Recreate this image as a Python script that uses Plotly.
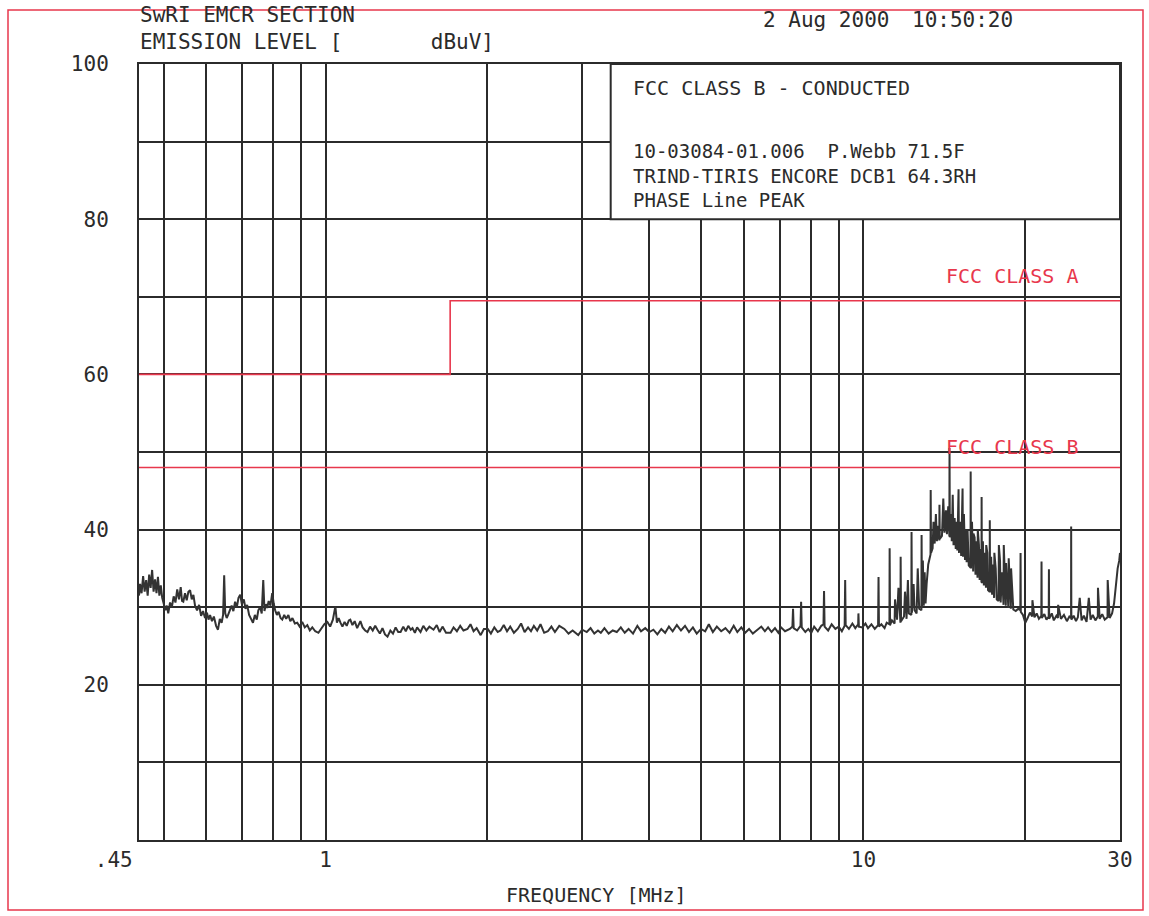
import plotly.graph_objects as go

# ---------------- data ----------------
freq_mhz = [
    0.450, 0.452, 0.455, 0.458, 0.461, 0.464, 0.467, 0.470, 0.473, 0.476, 0.479, 0.482, 0.485, 0.488, 0.491, 0.494, 0.497,
    0.500, 0.504, 0.507, 0.510, 0.514, 0.518, 0.522, 0.526, 0.530, 0.534, 0.538, 0.541, 0.544, 0.548, 0.552, 0.556, 0.560,
    0.564, 0.568, 0.572, 0.577, 0.582, 0.587, 0.592, 0.597, 0.602, 0.606, 0.610, 0.615, 0.620, 0.626, 0.631, 0.636, 0.641,
    0.645, 0.648, 0.651, 0.655, 0.659, 0.664, 0.669, 0.674, 0.679, 0.684, 0.689, 0.694, 0.699, 0.705, 0.710, 0.715, 0.721,
    0.727, 0.733, 0.739, 0.745, 0.750, 0.756, 0.761, 0.766, 0.770, 0.775, 0.779, 0.784, 0.790, 0.796, 0.801, 0.806, 0.812,
    0.818, 0.825, 0.831, 0.838, 0.845, 0.853, 0.860, 0.868, 0.877, 0.886, 0.895, 0.905, 0.915, 0.925, 0.935, 0.945, 0.957,
    0.970, 0.982, 0.995, 1.008,
    1.020, 1.032, 1.043, 1.050, 1.058, 1.066, 1.075, 1.085, 1.095, 1.105, 1.112, 1.122, 1.133, 1.145, 1.155, 1.161, 1.172,
    1.185, 1.197, 1.210, 1.224, 1.237, 1.249, 1.262, 1.276, 1.290, 1.304, 1.320, 1.335, 1.350, 1.365, 1.379, 1.395, 1.410,
    1.425, 1.440, 1.451, 1.466, 1.480, 1.502, 1.520, 1.540, 1.560, 1.588, 1.610, 1.630, 1.650, 1.675, 1.708, 1.730, 1.755,
    1.780, 1.805, 1.836, 1.860, 1.885, 1.910, 1.943, 1.970, 2.003,
    2.030, 2.060, 2.090, 2.115, 2.145, 2.175, 2.205, 2.240, 2.277, 2.310, 2.345, 2.380, 2.410, 2.440, 2.475, 2.510, 2.550,
    2.590, 2.630, 2.670, 2.720, 2.780, 2.830, 2.880, 2.950, 3.000, 3.060, 3.110, 3.160, 3.210, 3.250, 3.300, 3.360, 3.420,
    3.480, 3.540, 3.600, 3.660, 3.730, 3.800, 3.860, 3.930, 4.000, 4.070, 4.140, 4.210, 4.280, 4.350, 4.420, 4.500, 4.580,
    4.660, 4.740, 4.820, 4.900, 4.990, 5.080, 5.160, 5.250, 5.340, 5.440, 5.540, 5.640, 5.740, 5.830, 5.930, 6.030, 6.130,
    6.230, 6.340, 6.460, 6.560, 6.650, 6.750, 6.850, 6.950, 7.030, 7.150, 7.300, 7.380, 7.400, 7.420, 7.530, 7.640, 7.660,
    7.680, 7.800, 7.900, 8.000, 8.100, 8.230, 8.350, 8.430, 8.450, 8.470, 8.600, 8.730, 8.870, 9.000, 9.120, 9.230, 9.250,
    9.270, 9.400, 9.540, 9.660, 9.780, 9.790, 9.810, 9.950,
    10.09, 10.20, 10.35, 10.50, 10.65, 10.67, 10.69, 10.80, 10.95, 11.05, 11.18, 11.19, 11.21, 11.30, 11.43, 11.55, 11.72,
    11.73, 11.75, 11.90, 12.03, 12.15, 12.28, 12.29, 12.31, 12.45, 12.56, 12.70, 12.82, 12.83, 12.85, 12.95, 13.05, 13.11,
    13.20, 13.33, 13.34, 13.36, 13.45, 13.57, 13.70, 13.84, 13.85, 13.87, 14.00, 14.15, 14.30, 14.45, 14.46, 14.48, 14.60,
    14.71, 14.85, 14.90, 14.95, 15.03, 15.06, 15.20, 15.29, 15.32, 15.45, 15.50, 15.56, 15.70, 15.82, 15.83, 15.85, 16.00,
    16.02, 16.16, 16.30, 16.32, 16.45, 16.58, 16.59, 16.61, 16.75, 16.90, 16.92, 17.05, 17.17, 17.18, 17.20, 17.35, 17.50,
    17.52, 17.70, 17.84, 17.86, 18.00, 18.22, 18.24, 18.40, 18.42, 18.60, 18.63, 18.80, 18.82, 19.00, 19.20, 19.40, 19.58,
    19.60, 19.62, 19.80, 20.00, 20.20, 20.40, 20.60, 20.62, 20.80, 21.00, 21.20, 21.42, 21.44, 21.46, 21.70, 21.90, 22.11,
    22.13, 22.15, 22.40, 22.60, 22.85, 23.00, 23.02, 23.30, 23.60, 23.90, 24.15, 24.33, 24.34, 24.36, 24.60, 24.85, 25.05,
    25.25, 25.45, 25.70, 26.00, 26.25, 26.45, 26.70, 27.00, 27.28, 27.30, 27.50, 27.80, 28.10, 28.44, 28.46, 28.70, 29.00,
    29.25, 29.45, 29.70, 29.90, 30.00,
]
level_dbuv = [
    31.5, 33.0, 31.8, 34.0, 32.0, 33.5, 31.5, 34.2, 32.5, 34.8, 32.0, 33.6, 31.8, 33.9, 31.5, 32.8, 31.2,
    30.5, 29.6, 30.2, 29.2, 30.6, 30.0, 31.4, 30.6, 32.3, 31.0, 32.6, 30.8, 30.7, 31.8, 30.9, 32.0, 32.2,
    31.0, 31.6, 30.2, 29.6, 30.3, 28.9, 29.5, 28.6, 29.3, 28.4, 29.0, 28.2, 28.8, 27.6, 27.1, 28.5, 28.0,
    29.0, 34.1, 29.2, 28.6, 29.0, 29.6, 30.2, 29.5, 30.7, 30.0, 31.2, 31.6, 30.4, 31.0, 29.8, 30.3, 29.0,
    28.5, 28.0, 29.0, 28.4, 29.6, 30.0, 29.2, 33.5, 29.5, 30.4, 29.9, 30.8, 30.2, 31.8, 30.5, 29.6, 29.0,
    29.4, 28.6, 28.4, 29.0, 28.5, 29.0, 28.2, 28.6, 27.9, 28.0, 27.5, 28.1, 27.4, 27.7, 27.0, 27.4, 26.9,
    26.7, 27.3, 27.8, 28.1,
    27.5, 28.4, 30.1, 28.0, 28.6, 28.0, 27.5, 28.1, 27.6, 28.3, 28.4, 27.7, 28.2, 27.3, 27.8, 28.2, 27.4,
    27.0, 26.8, 27.5, 27.0, 27.6, 27.1, 26.6, 27.3, 26.5, 26.2, 27.0, 26.6, 27.4, 26.8, 26.8, 27.5, 26.9,
    27.6, 27.1, 27.3, 26.7, 27.4, 26.8, 27.6, 27.0, 27.5, 27.1, 27.7, 26.8, 27.5, 26.7, 26.7, 27.4, 26.9,
    27.6, 27.0, 27.2, 27.8, 26.9, 27.3, 26.4, 27.2, 27.2,
    26.6, 27.4, 26.8, 27.0, 27.7, 26.9, 27.5, 26.7, 27.2, 27.9, 26.8, 27.4, 26.9, 27.6, 27.0, 27.8, 26.7,
    26.9, 27.5, 26.8, 27.6, 27.2, 26.6, 27.0, 26.4, 27.1, 26.8, 27.3, 26.6, 27.0, 26.7, 27.3, 26.6, 27.0,
    26.8, 27.4, 26.7, 27.2, 26.6, 27.6, 26.9, 27.3, 26.8, 27.1, 26.5, 27.2, 26.7, 27.5, 26.9, 27.7, 27.0,
    27.6, 26.8, 27.4, 26.6, 27.2, 26.9, 27.8, 26.8, 27.5, 26.9, 27.3, 26.7, 27.6, 26.8, 27.4, 26.7, 27.2,
    26.6, 27.0, 27.5, 26.9, 27.4, 26.8, 27.3, 26.7, 27.4, 26.9, 27.2, 27.5, 29.8, 27.3, 27.0, 27.6, 30.7,
    27.4, 26.8, 27.2, 26.7, 27.5, 26.9, 27.6, 27.8, 32.1, 27.5, 27.0, 27.8, 27.2, 27.5, 26.9, 27.6, 33.5,
    27.7, 27.2, 27.9, 27.3, 27.8, 29.2, 27.5, 27.4,
    27.9, 27.3, 27.8, 27.2, 27.7, 33.9, 27.5, 27.8, 27.3, 28.0, 27.8, 37.6, 27.7, 28.3, 27.9, 28.4, 28.0,
    36.5, 28.2, 28.8, 28.5, 29.2, 29.0, 39.7, 29.3, 29.6, 29.2, 29.8, 29.6, 39.3, 29.9, 30.2, 30.5, 33.0,
    35.5, 36.8, 45.1, 37.0, 37.6, 38.2, 38.5, 38.6, 43.2, 38.8, 39.2, 39.6, 39.4, 39.1, 50.5, 39.0, 38.5,
    38.0, 37.5, 41.0, 37.3, 45.2, 37.0, 36.6, 45.3, 36.5, 36.1, 40.0, 35.8, 35.4, 35.1, 47.5, 35.0, 34.6,
    39.5, 34.2, 33.8, 40.0, 33.5, 33.2, 44.2, 33.1, 32.8, 32.5, 38.0, 32.2, 32.0, 41.2, 31.9, 31.6, 31.2,
    37.0, 31.0, 30.8, 38.0, 30.6, 30.3, 38.0, 30.2, 35.7, 29.9, 36.3, 29.8, 35.0, 29.7, 29.5, 29.8, 29.6,
    37.0, 29.4, 29.0, 28.0, 28.6, 29.3, 28.8, 30.9, 28.7, 29.2, 28.5, 28.9, 35.9, 28.6, 29.1, 28.4, 28.8,
    34.9, 28.5, 29.2, 28.3, 28.9, 28.6, 30.3, 28.5, 29.0, 28.2, 28.8, 28.6, 40.4, 28.4, 28.9, 28.2, 28.7,
    31.2, 28.3, 28.9, 28.1, 31.2, 28.4, 29.0, 28.3, 28.8, 32.5, 28.5, 29.1, 28.4, 28.7, 33.5, 28.6, 29.2,
    30.5, 32.5, 35.0, 36.0, 37.0,
]
# extra narrow spikes that fill the dense band around the 11-19 MHz hump
spike_freq_mhz = [
    11.45, 11.62, 11.95, 12.10, 12.40, 12.62, 12.90, 13.00,
    13.50, 13.64, 13.78, 14.08, 14.24, 14.38, 14.55, 14.66, 14.78, 15.12, 15.38, 15.62,
    15.92, 16.10, 16.24, 16.40, 16.52, 16.68, 16.82, 17.00, 17.28, 17.42, 17.62, 17.95, 18.10,
]
spike_level_dbuv = [
    31.0, 32.5, 32.0, 33.5, 33.0, 35.0, 36.0, 34.5,
    41.0, 42.0, 40.5, 44.0, 42.5, 43.0, 42.0, 44.5, 41.5, 41.0, 42.0, 40.0,
    41.0, 39.0, 38.5, 38.0, 37.5, 38.5, 37.0, 37.0, 36.5, 35.5, 35.0, 36.0, 34.5,
]

limit_a_freq = [0.45, 1.705, 1.705, 30.0]
limit_a_level = [60.0, 60.0, 69.5, 69.5]
limit_b_freq = [0.45, 30.0]
limit_b_level = [48.0, 48.0]

x_tick_vals = [0.45, 1, 10, 30]
x_tick_text = [".45" + "\u00a0" * 4, "1", "10", "30"]
x_grid_vals = [0.5, 0.6, 0.7, 0.8, 0.9, 2, 3, 4, 5, 6, 7, 8, 9, 20]
y_tick_vals = [20, 40, 60, 80, 100]
y_tick_text = ["20", "40", "60", "80", "100"]
y_grid_vals = [10, 30, 50, 70, 90]

assert len(freq_mhz) == len(level_dbuv)
assert len(spike_freq_mhz) == len(spike_level_dbuv)
trace_pts = sorted(zip(freq_mhz + spike_freq_mhz, level_dbuv + spike_level_dbuv))
trace_f = [p[0] for p in trace_pts]
trace_v = [p[1] for p in trace_pts]

# ---------------- figure ----------------
W, H = 1149, 916
L, R, T, B = 139, 29, 64, 76
PW, PH = W - L - R, H - T - B

def px(x):
    return (x - L) / PW

def py(y):
    return (H - B - y) / PH

FONT = "DejaVu Sans Mono, Liberation Mono, monospace"
INK = "#2b2b2b"
RED = "#e8374c"

fig = go.Figure()
fig.add_trace(go.Scatter(x=limit_a_freq, y=limit_a_level, mode="lines",
                         line=dict(color=RED, width=1.6), hoverinfo="skip", showlegend=False))
fig.add_trace(go.Scatter(x=limit_b_freq, y=limit_b_level, mode="lines",
                         line=dict(color=RED, width=1.6), hoverinfo="skip", showlegend=False))
fig.add_trace(go.Scatter(x=trace_f, y=trace_v, mode="lines",
                         line=dict(color="#333333", width=2.0), showlegend=False))

fig.update_layout(
    width=W, height=H,
    margin=dict(l=L, r=R, t=T, b=B, pad=0),
    paper_bgcolor="white", plot_bgcolor="white",
    font=dict(family=FONT, size=20, color=INK),
    showlegend=False,
)
fig.update_xaxes(
    type="log", range=[-0.346787, 1.477121],
    tickvals=x_tick_vals, ticktext=x_tick_text, ticks="",
    showgrid=True, gridcolor=INK, gridwidth=1.8,
    minor=dict(tickvals=x_grid_vals, showgrid=True, gridcolor=INK, gridwidth=1.8, ticks=""),
    showline=True, linecolor=INK, linewidth=2, mirror=True,
    zeroline=False, tickfont=dict(size=21, color=INK),
)
fig.update_yaxes(
    range=[0, 100],
    tickvals=y_tick_vals, ticktext=y_tick_text, ticks="",
    ticklabelstandoff=24,
    showgrid=True, gridcolor=INK, gridwidth=1.8,
    minor=dict(tickvals=y_grid_vals, showgrid=True, gridcolor=INK, gridwidth=1.8, ticks=""),
    showline=True, linecolor=INK, linewidth=2, mirror=True,
    zeroline=False, tickfont=dict(size=21, color=INK),
)

# info box (covers the grid in the upper right)
fig.add_shape(type="rect", xref="x", yref="y", x0=3.39, x1=30, y0=80, y1=100,
              fillcolor="white", line=dict(color=INK, width=2), layer="above")
# page border in red
fig.add_shape(type="rect", xref="paper", yref="paper",
              x0=px(8), x1=px(1143), y0=py(910), y1=py(10),
              line=dict(color=RED, width=1.5), fillcolor="rgba(0,0,0,0)", layer="above")

def note(text, x, y, color=INK, size=20, xanchor="left"):
    fig.add_annotation(text=text, xref="paper", yref="paper", x=px(x), y=py(y),
                       xanchor=xanchor, yanchor="middle", showarrow=False, align="left",
                       font=dict(family=FONT, size=size, color=color))

note("SwRI EMCR SECTION<br>EMISSION LEVEL [" + "\u00a0" * 7 + "dBuV]", 138, 29, size=21)
note("2 Aug 2000", 761, 20, size=21)
note("10:50:20", 910, 20, size=21)
note("FCC CLASS B - CONDUCTED", 631, 88)
note("10-03084-01.006  P.Webb 71.5F".replace("  ", "\u00a0\u00a0"), 631, 151, size=19)
note("TRIND-TIRIS ENCORE DCB1 64.3RH", 631, 176, size=19)
note("PHASE Line PEAK", 631, 200, size=19)
note("FCC CLASS A", 944, 276, color=RED)
note("FCC CLASS B", 944, 447, color=RED)
note("FREQUENCY [MHz]", 596, 895, xanchor="center")

fig.write_html("out.html")
